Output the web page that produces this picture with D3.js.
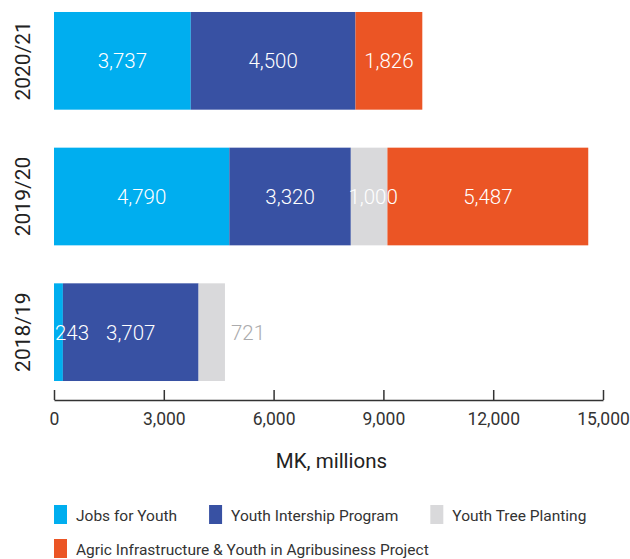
<!DOCTYPE html>
<html>
<head>
<meta charset="utf-8">
<script src="https://cdn.jsdelivr.net/npm/d3@7"></script>
<style>
  html, body { margin: 0; padding: 0; background: #fff; }
  svg { display: block; font-family: Roboto, "Noto Sans", sans-serif; }
</style>
</head>
<body>
<svg id="chart" width="630" height="559"></svg>
<script>
// Youth programme allocations by fiscal year (MK, millions)
const years = ["2020/21", "2019/20", "2018/19"];
const programmes = [
  "Jobs for Youth",
  "Youth Intership Program",
  "Youth Tree Planting",
  "Agric Infrastructure & Youth in Agribusiness Project"
];
const jobsForYouth      = [3737, 4790, 243];
const youthInternship   = [4500, 3320, 3707];
const youthTreePlanting = [0, 1000, 721];
const agricInfra        = [1826, 5487, 0];
const xTicks = [0, 3000, 6000, 9000, 12000, 15000];
const xTitle = "MK, millions";

const colors = ["#00AEEF", "#3851A3", "#D9D9DB", "#EB5525"];

const rows = years.map((y, i) => ({
  year: y,
  [programmes[0]]: jobsForYouth[i],
  [programmes[1]]: youthInternship[i],
  [programmes[2]]: youthTreePlanting[i],
  [programmes[3]]: agricInfra[i]
}));

const svg = d3.select("#chart");
const left = 54, right = 603, axisY = 400;

const x = d3.scaleLinear().domain([0, 15000]).range([left, right]);
const y = d3.scaleBand().domain(years).range([-7, axisY])
  .paddingInner(0.28).paddingOuter(0.14);
const color = d3.scaleOrdinal().domain(programmes).range(colors);

const series = d3.stack().keys(programmes)(rows);

// stacked segments
const layers = svg.append("g").selectAll("g")
  .data(series).join("g")
  .attr("fill", d => color(d.key));

layers.selectAll("rect")
  .data(d => d.map(v => Object.assign(v, { key: d.key })))
  .join("rect")
  .attr("x", d => x(d[0]))
  .attr("y", d => y(d.data.year))
  .attr("width", d => x(d[1]) - x(d[0]))
  .attr("height", y.bandwidth());

// value labels
const fmt = d3.format(",");
const labelG = svg.append("g")
  .attr("font-size", 20.5).attr("font-weight", 300);

series.forEach((layer, li) => {
  layer.forEach(d => {
    const v = d[1] - d[0];
    if (v <= 0) return;
    const x0 = x(d[0]), x1 = x(d[1]);
    const yc = y(d.data.year) + y.bandwidth() / 2;
    const t = labelG.append("text")
      .attr("y", yc).attr("dy", "0.36em")
      .attr("fill", "#fff")
      .text(fmt(v));
    const w = t.node().getComputedTextLength();
    const isLast = series.slice(li + 1).every(s => {
      const r = s.find(e => e.data.year === d.data.year);
      return r[1] - r[0] <= 0;
    });
    if (w <= x1 - x0) {
      t.attr("x", (x0 + x1) / 2).attr("text-anchor", "middle");
    } else if (isLast) {
      t.attr("x", x1 + 6).attr("text-anchor", "start").attr("fill", "#ABABAD");
    } else if (li === 0) {
      t.attr("x", x0 + 1).attr("text-anchor", "start");
    } else {
      t.attr("x", (x0 + x1) / 2 + 4).attr("text-anchor", "middle");
    }
  });
});

// year labels
svg.append("g").selectAll("text")
  .data(years).join("text")
  .attr("transform", d => `translate(30,${y(d) + y.bandwidth() / 2}) rotate(-90)`)
  .attr("text-anchor", "middle")
  .attr("font-size", 21)
  .attr("fill", "#222")
  .text(d => d);

// x axis
const axis = svg.append("g")
  .attr("transform", `translate(0,${axisY})`)
  .call(d3.axisBottom(x).tickValues(xTicks).tickFormat(fmt)
    .tickSizeInner(-10).tickSizeOuter(0).tickPadding(13));
axis.attr("font-family", null);
axis.select(".domain").attr("stroke", "#333").attr("stroke-width", 1.5);
axis.selectAll(".tick line").attr("stroke", "#333").attr("stroke-width", 1.5);
axis.selectAll(".tick text")
  .attr("font-size", 17.5).attr("fill", "#333");

svg.append("text")
  .attr("x", (left + right) / 2 + 3).attr("y", 468)
  .attr("text-anchor", "middle")
  .attr("font-size", 20.5).attr("fill", "#222")
  .text(xTitle);

// legend
const legend = svg.append("g").attr("font-size", 15.5).attr("fill", "#333");
let lx = left, ly = 505;
programmes.forEach(p => {
  const g = legend.append("g");
  const t = g.append("text").attr("x", 22).attr("y", 16).text(p);
  const w = t.node().getComputedTextLength();
  if (lx > left && lx + 22 + w > 620) { lx = left; ly += 34; }
  g.attr("transform", `translate(${lx},${ly})`);
  g.append("rect").attr("width", 13).attr("height", 19).attr("fill", color(p));
  lx += 22 + w + 32;
});
</script>
</body>
</html>
